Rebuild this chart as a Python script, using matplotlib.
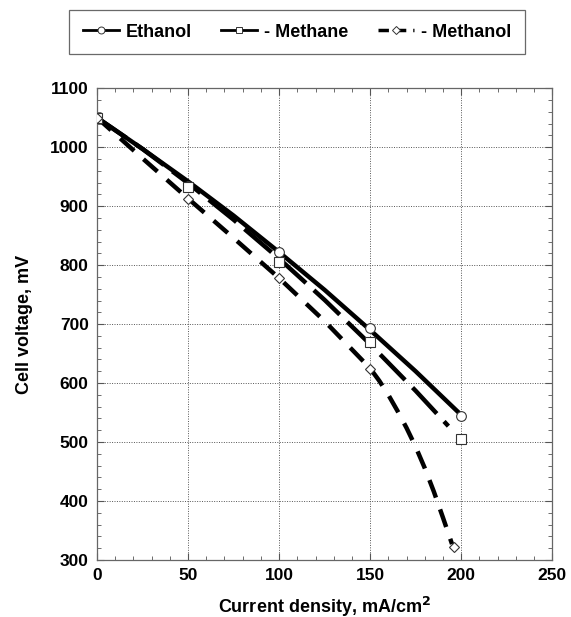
import matplotlib
matplotlib.use("Agg")
import matplotlib.pyplot as plt
from matplotlib.lines import Line2D
from matplotlib.ticker import MultipleLocator

plt.rcParams['font.family'] = ['Liberation Sans', 'DejaVu Sans']
plt.rcParams['font.weight'] = 'bold'

# measured points
current = [0, 50, 100, 150, 200]
ethanol = [1050, 935, 822, 693, 544]
methane = [1050, 932, 805, 669, 505]
methanol_x = [0, 50, 100, 150, 196]
methanol = [1050, 912, 779, 624, 322]

# fitted curves
eth_fit_x = [0, 25, 50, 75, 100, 125, 150, 175, 200]
eth_fit_y = [1050, 997, 942, 884, 822, 758, 690, 620, 546]
mea_fit_x = [0, 25, 50, 75, 100, 125, 150, 175, 193]
mea_fit_y = [1050, 997, 939, 877, 811, 741, 666, 587, 527]
mol_fit_x = [0, 25, 50, 75, 100, 125, 150, 155, 160, 165, 170, 175, 180, 185, 190, 195]
mol_fit_y = [1050, 981, 913, 846, 778, 705, 625, 604, 580, 553, 524, 492, 456, 416, 372, 327]

fig = plt.figure(figsize=(5.71, 6.17), dpi=100)
ax = fig.add_axes([0.170, 0.0924, 0.797, 0.7646])

lw = 3.2
ax.plot(eth_fit_x, eth_fit_y, color='black', lw=lw, solid_capstyle='butt')
ax.plot(mea_fit_x, mea_fit_y, color='black', lw=lw, dashes=(8, 2.4))
ax.plot(mol_fit_x, mol_fit_y, color='black', lw=lw, dashes=(4.2, 2.8))

mk = dict(ls='none', mfc='white', mec='#333333', mew=0.8, ms=7, zorder=5)
ax.plot(current, ethanol, marker='o', **mk)
ax.plot(current, methane, marker='s', **mk)
ax.plot(methanol_x, methanol, marker='D', **dict(mk, ms=5.5))

ax.set_xlim(0, 250)
ax.set_ylim(300, 1100)
ax.xaxis.set_major_locator(MultipleLocator(50))
ax.xaxis.set_minor_locator(MultipleLocator(10))
ax.yaxis.set_major_locator(MultipleLocator(100))
ax.yaxis.set_minor_locator(MultipleLocator(20))
ax.grid(True, which='major', ls=(0, (1, 1.5)), color='#555555', lw=0.7)
ax.tick_params(which='both', direction='in', top=True, right=True, color='#555555')
ax.tick_params(which='major', length=5, labelsize=12.5, pad=6)
ax.tick_params(which='minor', length=3)
for s in ax.spines.values():
    s.set_color('#666666')
    s.set_linewidth(0.9)
for lab in ax.get_xticklabels() + ax.get_yticklabels():
    lab.set_fontweight('bold')

ax.set_xlabel('Current density, mA/cm$^\\mathbf{2}$', fontsize=13, fontweight='bold', labelpad=8)
ax.set_ylabel('Cell voltage, mV', fontsize=13, fontweight='bold', labelpad=12)

handles = [
    Line2D([], [], color='black', lw=2, marker='o', mfc='white', mec='#333333', ms=5, mew=0.7),
    Line2D([], [], color='black', lw=2, marker='s', mfc='white', mec='#333333', ms=5, mew=0.7),
    Line2D([], [], color='black', lw=2.5, dashes=(3, 2), marker='D', mfc='white', mec='#333333', ms=4, mew=0.7),
]
labels = ['Ethanol', '- Methane', '- Methanol']
leg = fig.legend(handles, labels, loc='center', bbox_to_anchor=(0.52, 0.948), ncol=3,
                 frameon=True, fancybox=False, edgecolor='#444444',
                 handlelength=2.0, columnspacing=1.6, borderpad=0.75, handletextpad=0.4,
                 borderaxespad=0.0, prop={'weight': 'bold', 'size': 13})
leg.get_frame().set_linewidth(0.9)

fig.savefig('out.png', dpi=100)
